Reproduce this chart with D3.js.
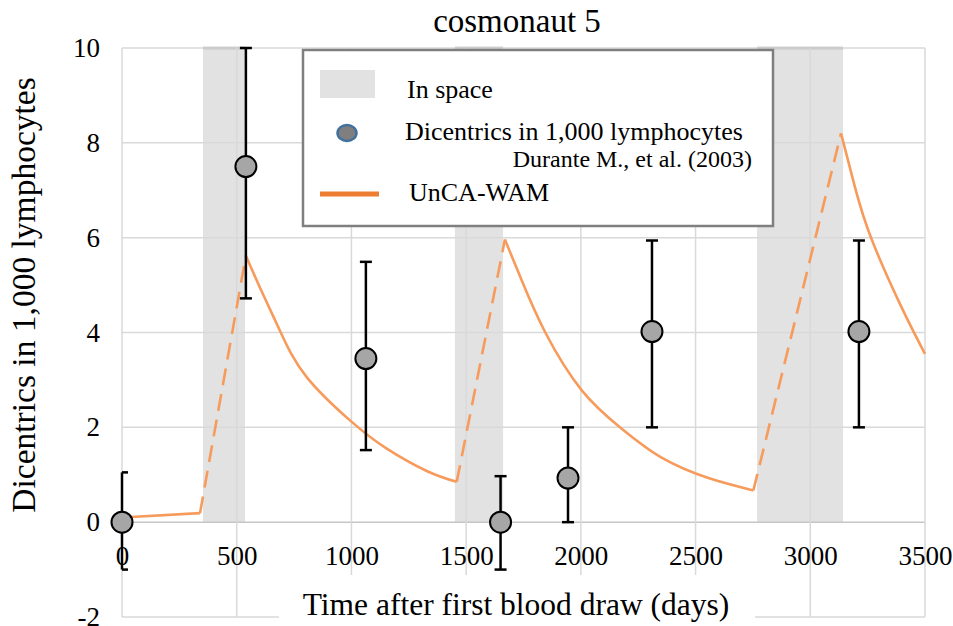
<!DOCTYPE html>
<html>
<head>
<meta charset="utf-8">
<script src="https://cdn.jsdelivr.net/npm/d3@7"></script>
<style>
  body { margin: 0; background: #fff; }
</style>
</head>
<body>
<div id="container"></div>
<script>
let w = 953;
let h = 626;

// tick values
let xTicks = [0, 500, 1000, 1500, 2000, 2500, 3000, 3500];
let yTicks = [-2, 0, 2, 4, 6, 8, 10];

// periods in space (days)
let spaceStart = [353, 1451, 2768];
let spaceEnd = [536, 1661, 3143];

// measured dicentrics (Durante et al. 2003)
let obsDay = [0, 540, 1063, 1650, 1944, 2310, 3212];
let obsVal = [0, 7.5, 3.45, 0, 0.93, 4.02, 4.02];
let obsLow = [-1.0, 4.72, 1.52, -1.0, 0, 2.0, 2.0];
let obsHigh = [1.05, 10, 5.49, 0.97, 2.0, 5.94, 5.94];

// UnCA-WAM model, solid parts (on ground)
let modelSolid = [
  [[0, 0.1], [340, 0.19]],
  [[540, 5.62], [601, 4.95], [692, 4.0], [805, 3.06], [1000, 2.12], [1154, 1.55], [1328, 1.08], [1459, 0.85]],
  [[1669, 5.96], [1742, 5.1], [1844, 4.01], [2004, 2.78], [2178, 1.97], [2352, 1.36], [2556, 0.93], [2752, 0.67]],
  [[3134, 8.2], [3195, 7.06], [3267, 5.97], [3398, 4.53], [3500, 3.55]]
];
// model, dashed parts (in flight)
let modelDashed = [
  [[340, 0.19], [540, 5.62]],
  [[1459, 0.85], [1669, 5.96]],
  [[2752, 0.67], [3134, 8.2]]
];

let serif = '"Liberation Serif", "Times New Roman", serif';

let viz = d3.select("#container")
  .append("svg")
    .attr("width", w)
    .attr("height", h)
    .style("background-color", "white");

let xScale = d3.scaleLinear().domain([0, 3500]).range([122, 925]);
let yScale = d3.scaleLinear().domain([-2, 10]).range([617, 48]);

// space bands
let bands = viz.append("g").attr("class", "bands");
spaceStart.forEach(function(s, i){
  bands.append("rect")
    .attr("x", xScale(s))
    .attr("y", yScale(10))
    .attr("width", xScale(spaceEnd[i]) - xScale(s))
    .attr("height", yScale(0) - yScale(10))
    .attr("fill", "#e2e2e2");
  bands.append("line")
    .attr("x1", xScale(s)).attr("x2", xScale(spaceEnd[i]))
    .attr("y1", yScale(10)).attr("y2", yScale(10))
    .attr("stroke", "#a6a6a6").attr("stroke-width", 2.5);
});

// gridlines
let grid = viz.append("g").attr("class", "grid");
yTicks.forEach(function(t){
  grid.append("line")
    .attr("x1", xScale(0)).attr("x2", xScale(3500))
    .attr("y1", yScale(t)).attr("y2", yScale(t))
    .attr("stroke", t == 0 ? "#c6c6c6" : "#d9d9d9")
    .attr("stroke-width", 1.5);
});
xTicks.forEach(function(t){
  grid.append("line")
    .attr("x1", xScale(t)).attr("x2", xScale(t))
    .attr("y1", yScale(10)).attr("y2", yScale(-2))
    .attr("stroke", "#d9d9d9")
    .attr("stroke-width", 1.5);
});

// axes (labels only)
let xAxis = d3.axisBottom(xScale).tickValues(xTicks).tickSize(0).tickPadding(24)
  .tickFormat(function(d){ return String(d); });
let xAxisGroup = viz.append("g").attr("class", "xaxis")
  .attr("transform", "translate(0," + yScale(0) + ")")
  .call(xAxis);
let yAxis = d3.axisLeft(yScale).tickValues(yTicks).tickSize(0).tickPadding(22)
  .tickFormat(function(d){ return String(d); });
let yAxisGroup = viz.append("g").attr("class", "yaxis")
  .attr("transform", "translate(" + xScale(0) + ",0)")
  .call(yAxis);
viz.selectAll(".domain").remove();
viz.selectAll(".tick text")
  .attr("font-size", 27)
  .attr("fill", "#000");

// x-axis title with white box
viz.append("rect")
  .attr("x", 279).attr("y", 575).attr("width", 476).attr("height", 51)
  .attr("fill", "white");
viz.append("text")
  .attr("x", 516).attr("y", 615)
  .attr("text-anchor", "middle")
  .attr("font-size", 31.5)
  .text("Time after first blood draw (days)");

viz.append("text")
  .attr("transform", "translate(35,295) rotate(-90)")
  .attr("text-anchor", "middle")
  .attr("font-size", 33.5)
  .text("Dicentrics in 1,000 lymphocytes");

viz.append("text")
  .attr("x", 517).attr("y", 32)
  .attr("text-anchor", "middle")
  .attr("font-size", 33)
  .text("cosmonaut 5");

// model curve
let line = d3.line()
  .x(function(d){ return xScale(d[0]); })
  .y(function(d){ return yScale(d[1]); })
  .curve(d3.curveNatural);
let model = viz.append("g").attr("class", "model");
model.selectAll(".solid").data(modelSolid).enter()
  .append("path").attr("class", "solid")
  .attr("d", line)
  .attr("fill", "none").attr("stroke", "#f79b5c").attr("stroke-width", 2.6);
model.selectAll(".dashed").data(modelDashed).enter()
  .append("path").attr("class", "dashed")
  .attr("d", line)
  .attr("fill", "none").attr("stroke", "#f79b5c").attr("stroke-width", 2.6)
  .attr("stroke-dasharray", "17,9");

// error bars and points
let obs = viz.append("g").attr("class", "obs");
obsDay.forEach(function(d, i){
  let cx = xScale(d);
  obs.append("line")
    .attr("x1", cx).attr("x2", cx)
    .attr("y1", yScale(obsLow[i])).attr("y2", yScale(obsHigh[i]))
    .attr("stroke", "#000").attr("stroke-width", 2.5);
  [obsLow[i], obsHigh[i]].forEach(function(v){
    obs.append("line")
      .attr("x1", Math.max(cx - 6, xScale(0))).attr("x2", cx + 6)
      .attr("y1", yScale(v)).attr("y2", yScale(v))
      .attr("stroke", "#000").attr("stroke-width", 2.5);
  });
  obs.append("circle")
    .attr("cx", cx).attr("cy", yScale(obsVal[i]))
    .attr("r", 10.5)
    .attr("fill", "#a6a6a6").attr("stroke", "#000").attr("stroke-width", 2);
});

// legend
let legend = viz.append("g").attr("class", "legend");
legend.append("rect")
  .attr("x", 303).attr("y", 50).attr("width", 470).attr("height", 176)
  .attr("fill", "white").attr("stroke", "#7f7f7f").attr("stroke-width", 2.5);
legend.append("rect")
  .attr("x", 320).attr("y", 70).attr("width", 55).attr("height", 28)
  .attr("fill", "#e2e2e2");
legend.append("text").attr("x", 407).attr("y", 98).attr("font-size", 26).text("In space");
legend.append("ellipse")
  .attr("cx", 347).attr("cy", 133).attr("rx", 9.5).attr("ry", 8)
  .attr("fill", "#7f7f7f").attr("stroke", "#41719c").attr("stroke-width", 2.5);
legend.append("text").attr("x", 405).attr("y", 140).attr("font-size", 26).text("Dicentrics in 1,000 lymphocytes");
legend.append("text").attr("x", 752).attr("y", 167).attr("font-size", 24)
  .attr("text-anchor", "end").text("Durante M., et al. (2003)");
legend.append("line")
  .attr("x1", 320).attr("x2", 379).attr("y1", 194).attr("y2", 194)
  .attr("stroke", "#ed7d31").attr("stroke-width", 5);
legend.append("text").attr("x", 409).attr("y", 201).attr("font-size", 26).text("UnCA-WAM");

// same serif face everywhere
viz.selectAll("text").style("font-family", serif).style("fill", "#000");
</script>
</body>
</html>
